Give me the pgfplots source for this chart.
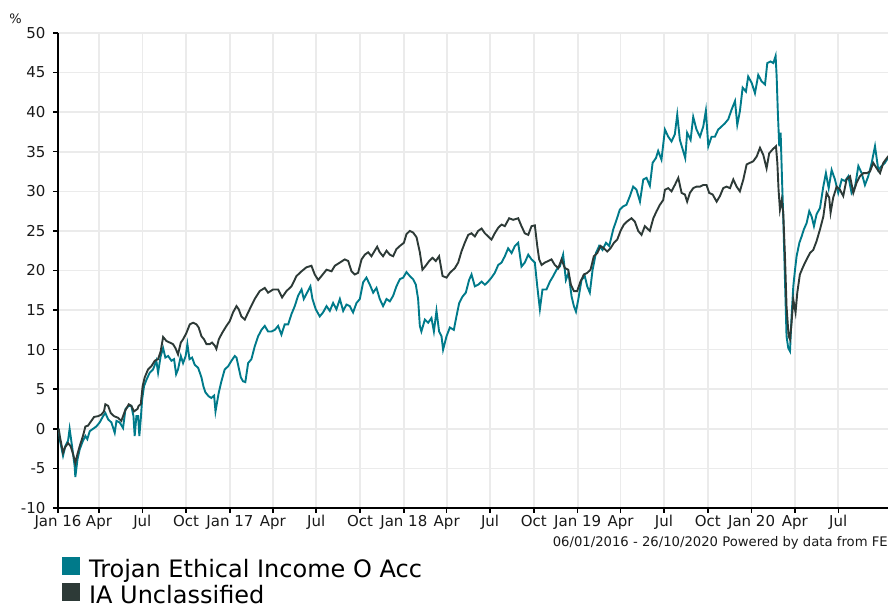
\documentclass[border=0pt]{standalone}
\usepackage{pgfplots}
\pgfplotsset{compat=1.18}
\usepackage{pgfplotstable}
\usepackage{fontspec}
\setmainfont{DejaVu Sans}

\definecolor{trojan}{HTML}{007A8A}
\definecolor{iaunc}{HTML}{2D3A37}
\definecolor{gridgrey}{HTML}{EBEBEB}

% cumulative performance, %
\pgfplotstableread{
t v
2016.004 0.0
2016.010 -1.3
2016.029 -3.4
2016.042 -2.2
2016.058 -1.5
2016.067 0.0
2016.081 -2.2
2016.096 -4.7
2016.100 -6.1
2016.112 -3.9
2016.125 -2.6
2016.144 -1.5
2016.158 -0.9
2016.169 -1.3
2016.183 -0.3
2016.202 0.0
2016.221 0.3
2016.240 0.8
2016.260 1.6
2016.273 2.0
2016.289 1.2
2016.308 0.8
2016.327 -0.5
2016.337 1.0
2016.356 0.8
2016.375 0.1
2016.389 2.5
2016.408 2.9
2016.423 2.9
2016.435 1.6
2016.442 -0.9
2016.452 1.6
2016.462 1.6
2016.469 -0.9
2016.477 1.2
2016.485 3.7
2016.496 5.4
2016.510 6.2
2016.529 7.1
2016.548 7.5
2016.567 8.6
2016.577 7.1
2016.592 9.2
2016.606 10.2
2016.619 9.0
2016.635 9.2
2016.654 8.6
2016.669 8.8
2016.681 6.9
2016.692 7.5
2016.708 9.2
2016.721 8.3
2016.736 9.2
2016.746 10.7
2016.758 8.8
2016.773 9.0
2016.788 8.1
2016.808 7.7
2016.827 6.5
2016.838 5.4
2016.850 4.6
2016.869 4.1
2016.884 3.9
2016.900 4.2
2016.908 2.2
2016.915 3.1
2016.927 4.6
2016.942 6.0
2016.961 7.5
2016.981 7.9
2017.000 8.6
2017.019 9.2
2017.029 9.0
2017.038 8.1
2017.054 6.5
2017.067 6.0
2017.080 5.9
2017.096 8.3
2017.115 8.8
2017.134 10.4
2017.154 11.7
2017.173 12.5
2017.192 13.0
2017.211 12.3
2017.231 12.3
2017.250 12.5
2017.269 13.0
2017.288 11.9
2017.307 13.2
2017.327 13.2
2017.346 14.5
2017.365 15.5
2017.384 16.8
2017.404 17.6
2017.417 16.4
2017.436 17.2
2017.455 18.0
2017.467 16.4
2017.486 15.1
2017.509 14.2
2017.528 14.7
2017.548 15.5
2017.567 14.9
2017.586 15.9
2017.605 15.1
2017.625 16.4
2017.644 14.9
2017.663 15.7
2017.682 15.5
2017.701 14.7
2017.721 15.9
2017.740 16.4
2017.759 18.5
2017.778 19.1
2017.798 18.2
2017.817 17.2
2017.836 17.8
2017.855 16.4
2017.874 15.5
2017.894 16.4
2017.913 16.1
2017.932 16.8
2017.951 18.0
2017.971 18.9
2017.990 19.1
2018.009 19.8
2018.028 19.3
2018.047 18.9
2018.063 18.2
2018.076 16.4
2018.086 13.0
2018.095 12.3
2018.115 13.8
2018.134 13.4
2018.153 14.0
2018.167 12.3
2018.182 14.9
2018.197 12.3
2018.211 11.7
2018.220 10.0
2018.240 11.7
2018.259 12.8
2018.282 12.5
2018.297 14.2
2018.313 15.9
2018.332 16.7
2018.351 17.2
2018.370 18.8
2018.384 19.5
2018.403 18.0
2018.422 18.2
2018.442 18.6
2018.461 18.2
2018.480 18.6
2018.499 19.1
2018.518 19.7
2018.538 20.7
2018.557 21.0
2018.576 21.8
2018.595 22.8
2018.615 22.2
2018.634 23.1
2018.653 23.5
2018.672 20.5
2018.691 21.0
2018.711 22.0
2018.730 21.4
2018.749 21.0
2018.763 18.0
2018.778 15.1
2018.793 17.6
2018.816 17.6
2018.836 18.6
2018.855 19.3
2018.874 20.1
2018.893 20.5
2018.912 22.0
2018.928 18.8
2018.943 19.7
2018.961 16.7
2018.974 15.5
2018.986 14.8
2018.999 16.3
2019.018 18.8
2019.037 19.3
2019.051 18.0
2019.066 17.2
2019.082 20.1
2019.101 22.2
2019.120 23.1
2019.139 22.6
2019.159 23.5
2019.178 23.1
2019.201 25.2
2019.220 26.4
2019.239 27.7
2019.258 28.1
2019.277 28.3
2019.297 29.4
2019.316 30.6
2019.335 30.2
2019.355 28.7
2019.374 31.5
2019.393 31.7
2019.412 30.7
2019.428 33.6
2019.447 34.2
2019.460 35.1
2019.479 34.0
2019.499 37.8
2019.518 36.9
2019.537 36.3
2019.556 37.2
2019.570 39.7
2019.585 36.5
2019.604 35.1
2019.616 34.2
2019.627 37.4
2019.647 36.5
2019.662 39.4
2019.681 37.8
2019.701 36.9
2019.720 38.2
2019.735 40.2
2019.749 35.7
2019.768 36.9
2019.787 36.9
2019.806 37.8
2019.826 38.2
2019.845 38.6
2019.864 39.1
2019.883 40.3
2019.903 41.4
2019.916 38.4
2019.931 40.1
2019.947 43.1
2019.966 42.6
2019.979 44.5
2019.999 43.7
2020.018 42.4
2020.037 44.7
2020.056 43.9
2020.076 43.5
2020.089 46.2
2020.108 46.4
2020.124 46.2
2020.137 47.1
2020.143 44.5
2020.150 39.9
2020.158 35.7
2020.166 37.4
2020.174 31.5
2020.181 26.8
2020.191 18.8
2020.200 11.7
2020.210 10.2
2020.220 9.8
2020.229 14.2
2020.239 18.0
2020.249 20.1
2020.258 21.8
2020.274 23.5
2020.287 24.3
2020.300 25.2
2020.316 26.0
2020.331 27.5
2020.345 26.8
2020.358 25.6
2020.373 27.1
2020.393 27.9
2020.412 30.6
2020.427 32.3
2020.443 30.4
2020.460 32.7
2020.479 31.5
2020.498 29.8
2020.518 31.5
2020.537 31.3
2020.556 31.9
2020.575 29.8
2020.595 30.6
2020.614 33.2
2020.633 32.3
2020.652 30.8
2020.671 31.9
2020.691 33.6
2020.710 35.7
2020.729 32.7
2020.748 33.2
2020.767 33.6
2020.785 34.2
2020.800 34.5
}\trojandata

\pgfplotstableread{
t v
2016.004 0.0
2016.010 -0.9
2016.029 -3.0
2016.039 -2.4
2016.058 -1.8
2016.073 -2.2
2016.087 -3.2
2016.100 -4.3
2016.112 -3.2
2016.125 -2.2
2016.144 -0.9
2016.158 0.3
2016.173 0.4
2016.192 1.0
2016.208 1.5
2016.231 1.6
2016.250 1.8
2016.265 2.2
2016.273 3.1
2016.289 2.9
2016.304 2.0
2016.323 1.6
2016.346 1.4
2016.365 1.0
2016.385 2.2
2016.408 3.1
2016.423 2.9
2016.438 2.2
2016.458 2.5
2016.465 2.9
2016.477 3.1
2016.488 5.4
2016.500 6.5
2016.519 7.5
2016.538 7.9
2016.558 8.6
2016.577 8.8
2016.592 9.8
2016.606 11.6
2016.625 11.1
2016.644 10.9
2016.663 10.7
2016.677 10.2
2016.692 9.4
2016.708 10.9
2016.721 11.3
2016.740 12.1
2016.760 13.2
2016.779 13.4
2016.798 13.2
2016.811 12.8
2016.827 11.7
2016.842 11.3
2016.856 10.7
2016.875 10.7
2016.888 10.9
2016.904 10.5
2016.913 10.1
2016.927 11.3
2016.946 12.1
2016.971 13.0
2016.990 13.6
2017.009 14.7
2017.029 15.5
2017.042 15.1
2017.057 14.2
2017.077 13.8
2017.096 14.7
2017.134 16.4
2017.163 17.4
2017.192 17.8
2017.211 17.2
2017.240 17.6
2017.269 17.6
2017.292 16.6
2017.317 17.4
2017.346 18.0
2017.375 19.3
2017.404 19.9
2017.432 20.4
2017.461 20.6
2017.480 19.5
2017.500 18.8
2017.519 19.3
2017.548 20.1
2017.577 19.9
2017.596 20.6
2017.625 21.0
2017.653 21.4
2017.673 21.2
2017.692 19.9
2017.711 19.5
2017.730 19.7
2017.750 21.4
2017.769 22.0
2017.788 22.3
2017.807 21.8
2017.826 22.5
2017.840 23.0
2017.855 22.3
2017.874 21.8
2017.894 22.5
2017.913 22.0
2017.932 21.8
2017.951 22.7
2017.971 23.1
2017.994 23.5
2018.009 24.6
2018.028 25.0
2018.047 24.8
2018.067 24.2
2018.086 22.3
2018.101 20.1
2018.120 20.6
2018.140 21.2
2018.159 21.6
2018.178 21.2
2018.197 21.8
2018.217 19.3
2018.240 19.1
2018.259 19.7
2018.288 20.3
2018.307 21.0
2018.326 22.4
2018.345 23.5
2018.365 24.5
2018.384 24.7
2018.403 24.3
2018.422 25.0
2018.442 25.3
2018.461 24.7
2018.480 24.3
2018.499 23.9
2018.518 24.7
2018.538 25.4
2018.557 25.8
2018.576 25.6
2018.601 26.6
2018.624 26.4
2018.653 26.6
2018.672 25.6
2018.691 24.7
2018.711 24.5
2018.730 25.6
2018.749 25.7
2018.763 23.1
2018.774 21.4
2018.788 20.7
2018.807 21.0
2018.826 21.2
2018.845 21.4
2018.864 20.7
2018.884 20.3
2018.903 21.4
2018.922 20.3
2018.941 20.1
2018.957 18.2
2018.974 17.4
2018.993 17.4
2019.012 18.6
2019.032 19.5
2019.051 19.7
2019.070 20.1
2019.089 21.8
2019.109 22.2
2019.128 23.1
2019.147 22.8
2019.166 22.4
2019.185 22.8
2019.205 23.5
2019.224 23.9
2019.243 25.0
2019.262 25.8
2019.281 26.2
2019.306 26.6
2019.325 26.2
2019.345 25.0
2019.364 24.5
2019.383 25.6
2019.402 25.2
2019.412 25.0
2019.432 26.6
2019.451 27.5
2019.470 28.3
2019.489 28.9
2019.499 30.2
2019.518 30.4
2019.537 30.0
2019.556 30.8
2019.576 31.7
2019.595 29.8
2019.614 29.6
2019.627 28.7
2019.643 29.8
2019.662 30.4
2019.681 30.6
2019.701 30.6
2019.720 30.8
2019.739 30.8
2019.754 29.8
2019.774 29.6
2019.797 28.7
2019.816 29.4
2019.835 30.4
2019.854 30.6
2019.874 30.4
2019.893 31.5
2019.912 30.6
2019.931 30.0
2019.951 31.5
2019.970 33.4
2019.989 33.6
2020.008 33.8
2020.028 34.4
2020.047 35.5
2020.066 34.6
2020.085 32.9
2020.100 34.8
2020.120 35.3
2020.139 35.7
2020.147 33.6
2020.154 30.2
2020.162 27.7
2020.172 28.9
2020.181 27.3
2020.191 21.8
2020.200 15.5
2020.212 11.7
2020.220 11.3
2020.229 13.4
2020.239 16.3
2020.252 14.7
2020.262 17.2
2020.277 19.5
2020.296 20.5
2020.316 21.4
2020.335 22.2
2020.354 22.6
2020.373 23.7
2020.393 25.2
2020.412 26.8
2020.431 29.8
2020.446 29.2
2020.454 27.3
2020.469 29.2
2020.489 30.6
2020.508 30.2
2020.527 29.4
2020.546 31.5
2020.566 31.9
2020.585 29.8
2020.604 31.1
2020.623 31.9
2020.643 32.3
2020.662 32.3
2020.681 32.5
2020.700 33.6
2020.720 32.9
2020.739 32.3
2020.758 33.6
2020.785 34.4
2020.800 34.6
}\iadata

\begin{document}
\begin{tikzpicture}
\begin{axis}[
  scale only axis,
  width=830pt, height=475pt,
  xmin=2016, xmax=2020.785,
  ymin=-10, ymax=50,
  axis x line*=bottom, axis y line*=left,
  axis line style={line width=2pt, black},
  xtick={2016,2016.2362,2016.4861,2016.7387,2016.9914,2017.2385,2017.4884,2017.7411,2017.9937,2018.2409,2018.4908,2018.7435,2018.9962,2019.2433,2019.4932,2019.7458,2019.9985,2020.2484,2020.4983},
  xticklabels={Jan 16,Apr,Jul,Oct,Jan 17,Apr,Jul,Oct,Jan 18,Apr,Jul,Oct,Jan 19,Apr,Jul,Oct,Jan 20,Apr,Jul},
  ytick={-10,-5,...,50},
  tick align=outside,
  major tick length=5pt,
  tick style={line width=1.5pt, black},
  grid=major,
  grid style={line width=1.6pt, gridgrey},
  tick label style={font=\fontsize{15}{17}\selectfont, text=black!90},
  /pgf/number format/assume math mode=true,
  yticklabel style={xshift=-4pt},
  xticklabel style={yshift=1pt},
  legend style={at={(0,0)}, anchor=north west, xshift=4pt, yshift=-49pt,
    draw=none, fill=none, inner sep=0pt, row sep=5pt,
    font=\fontsize{24}{28}\selectfont,
    nodes={inner sep=0pt, text height=17pt, text depth=0pt},
    /tikz/every odd column/.append style={column sep=9pt}},
  legend cell align=left,
  legend image code/.code={\fill[#1] (0pt,-5pt) rectangle (16pt,11pt);},
]
\addplot[trojan, line width=1.9pt] table[x=t, y=v] {\trojandata};
\addlegendentry{Trojan Ethical Income O Acc}
\addplot[iaunc, line width=1.9pt] table[x=t, y=v] {\iadata};
\addlegendentry{IA Unclassified}
\coordinate (SW) at (rel axis cs:0,0);
\coordinate (NE) at (rel axis cs:1,1);
\end{axis}
\node[font=\fontsize{13}{15}\selectfont, text=black!90] at ([xshift=-42.5pt, yshift=14.3pt]SW |- NE) {\%};
\node[anchor=base east, inner sep=0pt, font=\fontsize{13.2}{15}\selectfont, text=black!90]
  at ([yshift=-39pt]NE |- SW) {06/01/2016 - 26/10/2020 Powered by data from FE};
\pgfresetboundingbox
\path ([xshift=-58pt, yshift=-98pt]SW) rectangle ([yshift=33pt]NE);
\end{tikzpicture}
\end{document}
